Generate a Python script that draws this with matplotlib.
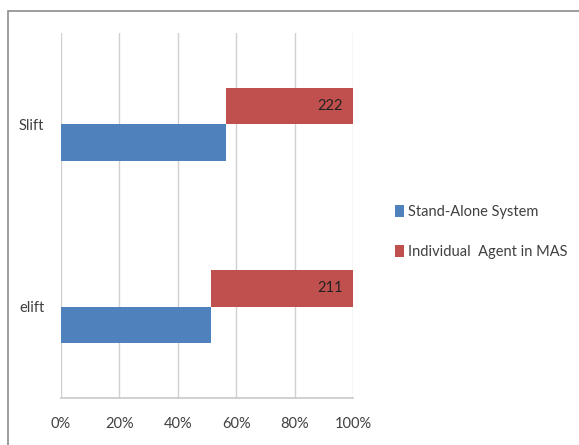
import numpy as np
import matplotlib.pyplot as plt
from matplotlib.patches import Rectangle

# données
categories = ['elift', 'Slift']
stand_alone = [223, 288]     # Stand-Alone System (estimé à partir des %)
agent_mas = [211, 222]       # Individual Agent in MAS
ticks = [0, 20, 40, 60, 80, 100]
tick_labels = ['0%', '20%', '40%', '60%', '80%', '100%']

plt.rcParams['font.family'] = ['Lato', 'DejaVu Sans']

blue = '#4f81bd'
red = '#c0504d'

tot = np.array(stand_alone) + np.array(agent_mas)
p_sa = np.array(stand_alone) / tot * 100
p_mas = np.array(agent_mas) / tot * 100

fig = plt.figure(figsize=(5.79, 4.45), dpi=100)
# cadre gris du graphique
fig.patches.append(Rectangle((8 / 579, -0.1), 1.2, 1 - 11 / 445 + 0.1,
                             transform=fig.transFigure, fill=False,
                             edgecolor='#8c8c8c', linewidth=1.2))

ax = fig.add_axes([61 / 579, 1 - 398 / 445, (353 - 61) / 579, (398 - 33) / 445])

y = np.arange(len(categories))
h = 0.2
ax.barh(y - h / 2, p_sa, height=h, color=blue, label='Stand-Alone System', zorder=3)
ax.barh(y + h / 2, p_mas, left=p_sa, height=h, color=red,
        label='Individual  Agent in MAS', zorder=3)

for i in range(len(categories)):
    ax.text(96.5, y[i] + h / 2, str(agent_mas[i]), ha='right', va='center',
            fontsize=10.5, color='#222222', zorder=4)

ax.set_xlim(0, 100)
ax.set_ylim(-0.5, 1.5)
ax.set_xticks(ticks)
ax.set_xticklabels(tick_labels, fontsize=10.5, color='#404040')
ax.set_yticks(y)
ax.set_yticklabels(categories, fontsize=10.5, color='#404040')
ax.tick_params(axis='x', length=0, pad=14)
ax.tick_params(axis='y', length=0, pad=12)
ax.grid(axis='x', color='#d0d0d0', linewidth=1, zorder=0)

for s in ['top', 'right', 'left']:
    ax.spines[s].set_visible(False)
ax.spines['bottom'].set_color('#c8c8c8')
ax.spines['bottom'].set_linewidth(1.2)

ax.legend(loc='center left', bbox_to_anchor=(1.1, 0.455), frameon=False,
          fontsize=10.5, handlelength=0.6, handleheight=0.9, handletextpad=0.3,
          labelspacing=1.75, labelcolor='#404040')

plt.savefig('out.png', dpi=100)
